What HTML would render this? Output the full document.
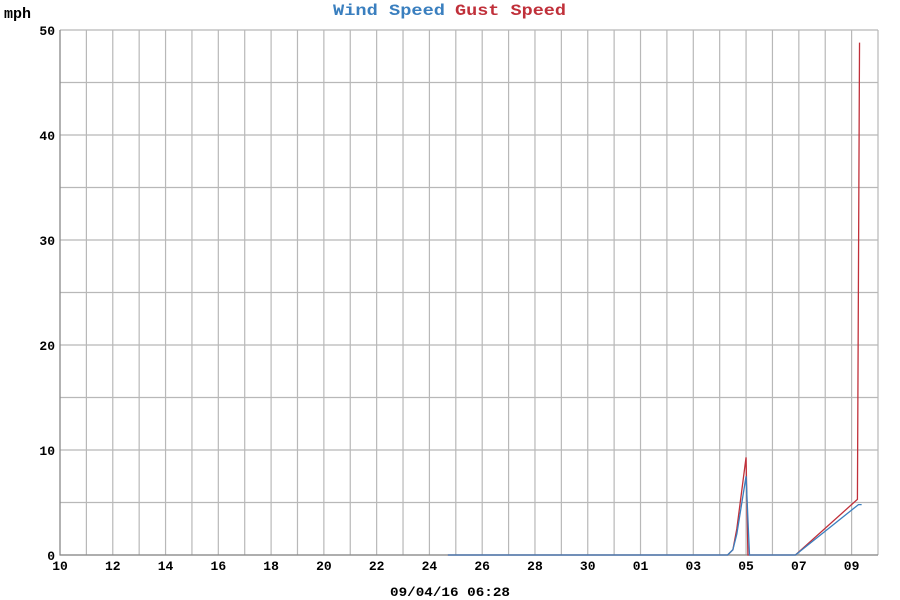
<!DOCTYPE html>
<html><head><meta charset="utf-8"><style>
body{margin:0;background:#fff}
svg{display:block}
text{font-family:"Liberation Mono",monospace;font-weight:bold}
</style></head><body>
<svg id="chart" width="900" height="600" viewBox="0 0 900 600">
<text x="333" y="15" font-size="16" fill="#3a7fbf" textLength="112" lengthAdjust="spacingAndGlyphs">Wind Speed</text>
<text x="455" y="15" font-size="16" fill="#c0303a" textLength="111" lengthAdjust="spacingAndGlyphs">Gust Speed</text>
<text x="4" y="18" font-size="15" fill="#000">mph</text>
<text x="390" y="596" font-size="13" fill="#000" textLength="120" lengthAdjust="spacingAndGlyphs">09/04/16 06:28</text>
<g id="grid"></g><g id="series"></g><g id="labels"></g>
</svg>
<script>
const xTickLabels = ["10","12","14","16","18","20","22","24","26","28","30","01","03","05","07","09"];
const yTickValues = [0,10,20,30,40,50];
const windX = [14.7,25.3,25.5,25.65,26.0,26.13,27.87,30.26,30.38];
const windY = [0,0,0.5,2,7.5,0,0,4.8,4.8];
const gustX = [14.7,25.3,25.5,25.65,26.0,26.07,27.87,30.22,30.3];
const gustY = [0,0,0.5,2.5,9.3,0,0,5.3,48.8];
const L=60,R=878,T=30,B=555,XMAX=31,YMAX=50;
const xs=u=>L+u/XMAX*(R-L), ys=v=>B-v/YMAX*(B-T);
const NS="http://www.w3.org/2000/svg";
const grid=document.getElementById('grid'),ser=document.getElementById('series'),lab=document.getElementById('labels');
function mk(t,a,p){const e=document.createElementNS(NS,t);for(const k in a)e.setAttribute(k,a[k]);p.appendChild(e);return e;}
for(let u=0;u<=XMAX;u++){const l=mk('line',{x1:xs(u),x2:xs(u),y1:T,y2:B,stroke:'#b8b8b8','stroke-width':1.2},grid);

}
for(let v=0;v<=YMAX;v+=5){const l=mk('line',{x1:L,x2:R,y1:ys(v),y2:ys(v),stroke:'#b8b8b8','stroke-width':1.2},grid);

}
const ax=mk('path',{d:`M${L},${T}V${B}H${R}`,stroke:'#888',fill:'none','stroke-width':1.2},grid);


xTickLabels.forEach((s,i)=>{const t=mk('text',{x:xs(i*2),y:570,'font-size':13,'text-anchor':'middle'},lab);t.textContent=s;

});
yTickValues.forEach(v=>{const t=mk('text',{x:55,y:ys(v)+5,'font-size':13,'text-anchor':'end'},lab);t.textContent=v;

});
function line(X,Y,c,n){const p=mk('polyline',{points:X.map((x,i)=>xs(x)+','+ys(Y[i])).join(' '),fill:'none',stroke:c,'stroke-width':1.3},ser);

}
line(gustX,gustY,'#c0303a','gust-speed-line');
line(windX,windY,'#3a7fbf','wind-speed-line');
</script>
</body></html>
